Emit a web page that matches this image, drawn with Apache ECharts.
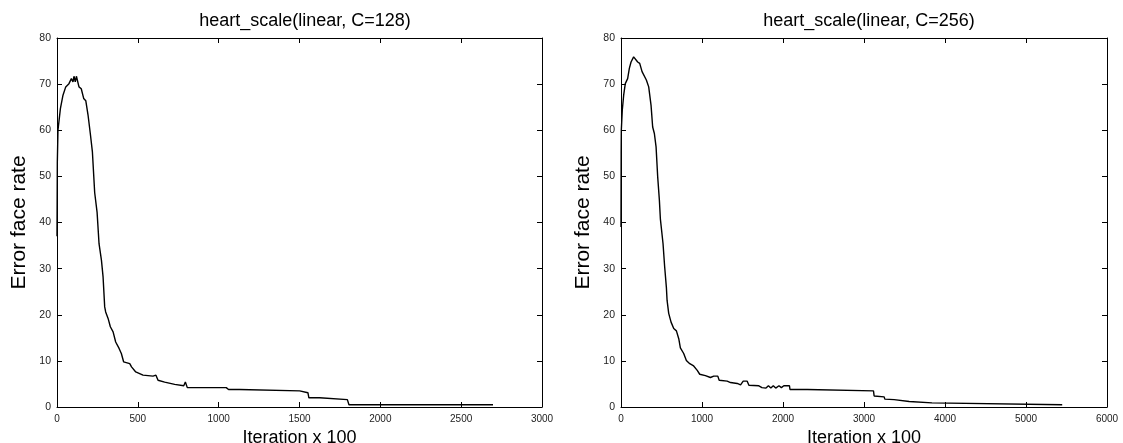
<!DOCTYPE html>
<html>
<head>
<meta charset="utf-8">
<script src="https://cdn.jsdelivr.net/npm/echarts@6/dist/echarts.min.js"></script>
<style>html,body{margin:0;padding:0;background:#fff}#c{width:1123px;height:443px}</style>
</head>
<body>
<div id="c"></div>
<script>
// ---- data ----
const titles = ['heart_scale(linear, C=128)', 'heart_scale(linear, C=256)'];
const xMax = [3000, 6000];
const xInterval = [500, 1000];
const yTicks = [0, 10, 20, 30, 40, 50, 60, 70, 80];

const leftIter = [0,2,6,21,37,54,74,89,99,105,113,120,136,150,165,178,192,206,219,233,248,260,275,285,295,301,316,330,347,363,384,398,412,450,461,487,532,594,605,612,625,666,676,728,738,784,794,806,1047,1061,1129,1140,1501,1511,1552,1558,1624,1635,1796,1806,2697];
const leftErr  = [37,53,60,64.7,67.6,69.4,70.1,71.2,70.5,71.7,70.5,71.7,69.4,69,66.9,66.4,63.3,59.3,55.3,46.5,42.2,35.4,31.8,28.2,21.7,20.6,19.2,17.4,16.3,14.1,12.7,11.6,9.8,9.4,8.7,7.6,6.9,6.7,6.4,6.9,5.8,5.4,5.1,4.9,4.6,4.6,5.4,4.2,4.2,3.8,3.8,3.5,3.5,3.1,3.1,2.0,2.0,1.6,1.6,0.5,0.5];

const rightIter = [0,2,4,16,33,53,82,103,124,156,177,206,231,260,280,313,342,371,391,412,433,453,474,486,519,539,560,569,589,618,651,684,713,733,774,807,849,897,939,972,1042,1062,1104,1145,1195,1212,1311,1352,1435,1476,1509,1558,1579,1702,1740,1760,1790,1820,1850,1880,1910,1950,1980,2010,2080,2086,2300,2313,3117,3125,3249,3257,3372,3393,3558,3570,3839,3847,5447];
const rightErr  = [39,55,60,64.4,67.6,70.1,71.2,73.4,74.8,75.9,75.7,74.8,74.5,72.7,72.3,70.9,69.4,65.4,60.7,59.3,56.4,49.9,44.8,40.8,35.4,30.4,26,23.1,20.3,18.4,17,16.5,14.8,12.8,11.6,10.1,9.4,8.9,8,7.1,6.8,7.1,6.4,6.7,6.7,5.8,5.6,5.3,5.1,4.8,5.6,5.6,4.7,4.6,4.2,4.6,4.1,4.6,4.1,4.6,4.1,4.6,4.2,4.6,4.6,3.8,3.8,3.5,3.5,2.4,2.2,1.7,1.6,1.2,1.2,0.9,0.9,0.5,0.5];

const xName = 'Iteration x 100';
const yName = 'Error face rate';

// ---- chart ----
const FONT = 'Liberation Sans, Arial, sans-serif';
const grids = [
  {left: 57, right: 581, top: 38, bottom: 36, containLabel: false, outerBoundsMode: 'none'},
  {left: 621, right: 16, top: 38, bottom: 36, containLabel: false, outerBoundsMode: 'none'}
];
const centers = [300, 864];

function zip(a, b) { return a.map((v, i) => [v, b[i]]); }

const option = {
  animation: false,
  backgroundColor: '#fff',
  title: titles.map((t, i) => ({
    text: t, left: centers[i], top: 7, textAlign: 'center',
    textStyle: {fontFamily: FONT, fontSize: 18, fontWeight: 'normal', color: '#000'}
  })),
  grid: grids,
  xAxis: [],
  yAxis: [],
  series: []
};

const lineStyle = {color: '#000', width: 1};
const plain = v => String(v);
for (let i = 0; i < 2; i++) {
  option.xAxis.push({
    type: 'value', gridIndex: i, min: 0, max: xMax[i], interval: xInterval[i], position: 'bottom',
    name: xName, nameLocation: 'middle', nameGap: 12,
    nameTextStyle: {fontFamily: FONT, fontSize: 18, color: '#000'},
    axisLine: {show: true, onZero: false, lineStyle},
    axisTick: {show: true, inside: true, length: 5, lineStyle},
    axisLabel: {fontFamily: FONT, fontSize: 10, color: '#222', margin: 7, formatter: plain},
    splitLine: {show: false}
  });
  option.xAxis.push({
    type: 'value', gridIndex: i, min: 0, max: xMax[i], interval: xInterval[i], position: 'top',
    axisLine: {show: true, onZero: false, lineStyle},
    axisTick: {show: true, inside: true, length: 5, lineStyle},
    axisLabel: {show: false}, splitLine: {show: false}
  });
  option.yAxis.push({
    type: 'value', gridIndex: i, min: yTicks[0], max: yTicks[yTicks.length - 1], interval: 10, position: 'left',
    name: yName, nameLocation: 'middle', nameGap: 27, nameRotate: 90,
    nameTextStyle: {fontFamily: FONT, fontSize: 21, color: '#000'},
    axisLine: {show: true, onZero: false, lineStyle},
    axisTick: {show: true, inside: true, length: 5, lineStyle},
    axisLabel: {fontFamily: FONT, fontSize: 10.5, color: '#222', margin: 6, formatter: plain},
    splitLine: {show: false}
  });
  option.yAxis.push({
    type: 'value', gridIndex: i, min: yTicks[0], max: yTicks[yTicks.length - 1], interval: 10, position: 'right',
    axisLine: {show: true, onZero: false, lineStyle},
    axisTick: {show: true, inside: true, length: 5, lineStyle},
    axisLabel: {show: false}, splitLine: {show: false}
  });
}

option.series.push({
  type: 'line', xAxisIndex: 0, yAxisIndex: 0, data: zip(leftIter, leftErr),
  showSymbol: false, symbol: 'none', lineStyle: {color: '#000', width: 1.4}
});
option.series.push({
  type: 'line', xAxisIndex: 2, yAxisIndex: 2, data: zip(rightIter, rightErr),
  showSymbol: false, symbol: 'none', lineStyle: {color: '#000', width: 1.4}
});

const chart = echarts.init(document.getElementById('c'), null, {renderer: 'canvas'});
chart.setOption(option);
</script>
</body>
</html>
